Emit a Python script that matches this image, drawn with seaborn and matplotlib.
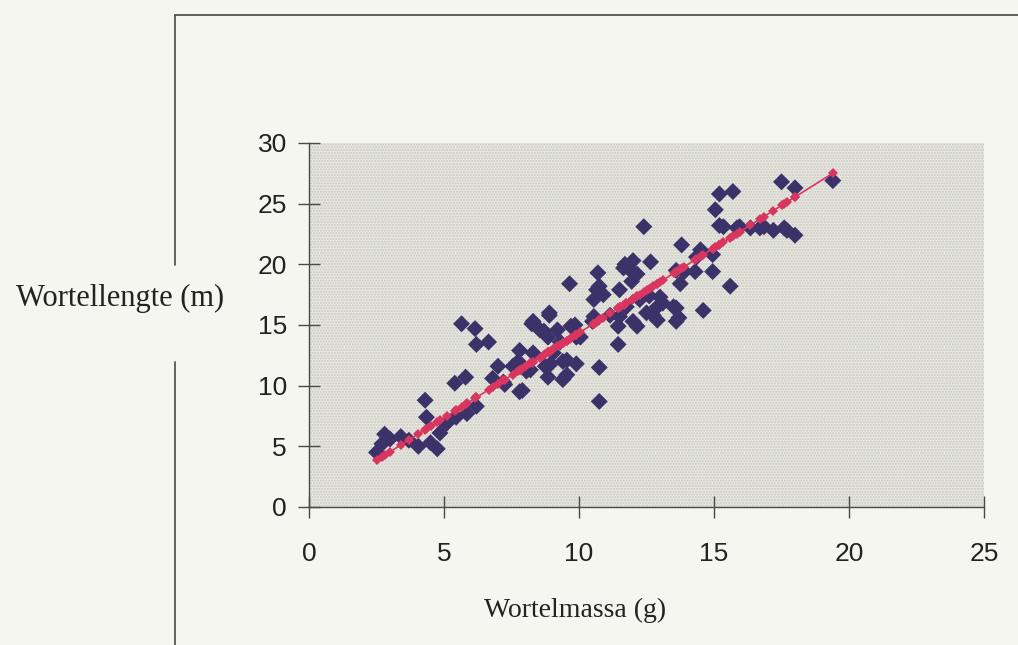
import numpy as np
import pandas as pd
import matplotlib
matplotlib.use("Agg")
import matplotlib.pyplot as plt
from matplotlib.patches import Rectangle
from matplotlib.lines import Line2D
import seaborn as sns

# Root mass (g) and root length (m) per plant
wortelmassa = [
    2.5, 2.7, 2.8, 3.0, 3.4, 3.7, 4.05, 4.3, 4.35, 4.5, 4.75, 4.85, 5.1, 5.45,
    5.85, 6.2, 5.4, 5.8, 5.65, 6.15, 6.2, 6.65, 6.8, 7.0, 7.25, 7.55, 7.8, 7.8,
    7.75, 7.2, 7.9, 8.05, 8.2, 8.25, 8.3, 8.55, 8.3, 8.75, 8.85, 8.9, 8.9, 8.7,
    8.85, 8.95, 9.05, 9.2, 9.3, 9.4, 9.4, 9.55, 9.55, 9.65, 9.7, 9.85, 9.9,
    9.9, 10.05, 10.5, 10.55, 10.55, 10.65, 10.7, 10.75, 10.9, 10.75, 10.75,
    11.15, 11.45, 11.45, 11.5, 11.5, 11.65, 11.7, 11.75, 11.95, 12.0, 12.0,
    12.0, 12.15, 12.15, 12.25, 12.4, 12.5, 12.6, 12.65, 12.75, 12.9, 12.9,
    13.0, 13.1, 13.5, 13.6, 13.6, 13.6, 13.7, 13.75, 13.8, 13.9, 14.3, 14.35,
    14.5, 14.6, 14.95, 14.95, 15.05, 15.2, 15.2, 15.35, 15.6, 15.7, 15.85,
    15.95, 16.35, 16.7, 16.85, 17.2, 17.5, 17.6, 17.7, 18.0, 18.0, 19.4,
]
wortellengte = [
    4.5, 5.2, 6.0, 5.6, 5.8, 5.5, 5.0, 8.8, 7.4, 5.3, 4.8, 6.1, 6.9, 7.4,
    7.7, 8.3, 10.2, 10.7, 15.1, 14.7, 13.4, 13.6, 10.6, 11.6, 10.1, 11.6, 12.9,
    9.5, 12.0, 10.3, 9.6, 11.2, 11.3, 15.1, 15.3, 14.6, 12.7, 11.6, 10.7, 16.0,
    15.8, 14.5, 14.0, 11.8, 12.7, 14.6, 13.6, 10.5, 12.0, 10.9, 12.1, 18.4,
    14.9, 15.0, 14.0, 11.8, 14.0, 15.3, 15.7, 17.1, 17.9, 19.3, 18.2, 17.5,
    11.5, 8.7, 15.8, 14.9, 13.4, 15.7, 17.9, 19.7, 20.0, 16.5, 18.6, 20.3,
    15.3, 19.3, 19.2, 14.9, 17.1, 23.1, 16.0, 17.4, 20.2, 15.8, 16.5, 15.4,
    17.3, 16.8, 16.5, 15.3, 16.4, 19.5, 15.6, 18.4, 21.6, 19.4, 19.4, 20.6,
    21.2, 16.2, 20.8, 19.4, 24.5, 25.8, 23.2, 23.1, 18.2, 26.0, 23.0,
    23.1, 23.0, 23.0, 23.1, 22.8, 26.8, 23.0, 22.8, 22.4, 26.3, 26.9,
]

# regression line: length = helling * mass + snijpunt
helling = 1.40
snijpunt = 0.35

x_ticks = [0, 5, 10, 15, 20, 25]
y_ticks = [0, 5, 10, 15, 20, 25, 30]

df = pd.DataFrame({"massa": wortelmassa, "lengte": wortellengte})
df["fit"] = helling * df["massa"] + snijpunt

sns.set_theme(style="white")
plt.rcParams["font.family"] = ["Liberation Sans", "DejaVu Sans"]

page = "#f6f6f0"
ink = "#4a4a44"
fig = plt.figure(figsize=(10.18, 6.45), dpi=100, facecolor=page)
ax = fig.add_axes([309 / 1018, 1 - 507 / 645, 675 / 1018, 364 / 645])
ax.set_facecolor("#e6e6e0")

# stippled plot area
ax.add_patch(Rectangle((0, 0), 1, 1, transform=ax.transAxes, facecolor="#e8e8e2",
                       edgecolor="#c9c9c1", hatch="......", linewidth=0, zorder=0))

sns.scatterplot(data=df, x="massa", y="lengte", marker="D", s=75,
                color="#3b3269", edgecolor="none", ax=ax, zorder=3)
sns.lineplot(data=df, x="massa", y="fit", estimator=None, sort=True,
             color="#d8365f", linewidth=1.2, marker="D", markersize=5.5,
             markeredgewidth=0, ax=ax, zorder=4)

ax.set_xlim(0, 25)
ax.set_ylim(0, 30)
ax.set_xticks(x_ticks)
ax.set_yticks(y_ticks)
ax.set_xticklabels([str(t) for t in x_ticks])
ax.set_yticklabels([str(t) for t in y_ticks])
ax.tick_params(axis="x", direction="inout", length=16, width=1, color=ink,
               labelsize=19, pad=17, labelcolor="#222222", bottom=True)
ax.tick_params(axis="y", direction="inout", length=16, width=1, color=ink,
               labelsize=19, pad=8, labelcolor="#222222", left=True)
ax.set_xlabel("")
ax.set_ylabel("")
for side in ("top", "right"):
    ax.spines[side].set_visible(False)
for side in ("left", "bottom"):
    ax.spines[side].set_color(ink)
    ax.spines[side].set_linewidth(1)

serif = ["Liberation Serif", "DejaVu Serif"]
fig.text(575 / 1018, 1 - 610 / 645, "Wortelmassa (g)", ha="center", va="center",
         fontsize=20, family=serif, color="#222222")
fig.text(120 / 1018, 1 - 298 / 645, "Wortellengte (m)", ha="center", va="center",
         fontsize=22, family=serif, color="#222222")

# chart frame, interrupted where the vertical title sits
X0, Y0 = 175 / 1018, 1 - 15 / 645
fig.add_artist(Line2D([X0, 1.0], [Y0, Y0], transform=fig.transFigure, color=ink, lw=1.2))
fig.add_artist(Line2D([X0, X0], [Y0, 1 - 265 / 645], transform=fig.transFigure, color=ink, lw=1.2))
fig.add_artist(Line2D([X0, X0], [1 - 362 / 645, 0.0], transform=fig.transFigure, color=ink, lw=1.2))

fig.savefig("out.png", dpi=100, facecolor=page)
